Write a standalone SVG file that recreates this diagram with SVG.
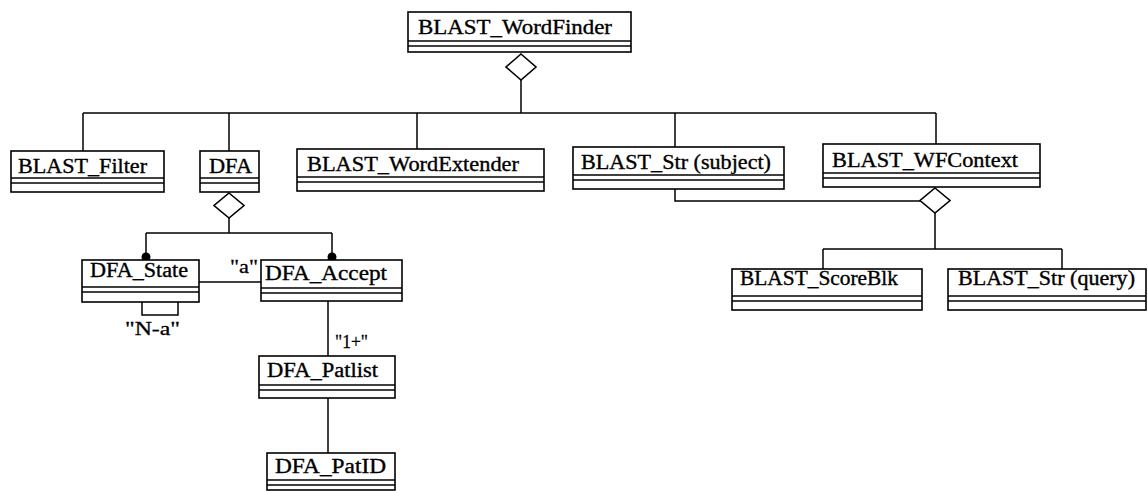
<svg xmlns="http://www.w3.org/2000/svg" width="1148" height="491" viewBox="0 0 1148 491">
<style>
  .box{fill:#fff;stroke:#000;stroke-width:1.6}
  .sep{stroke:#000;stroke-width:1.4}
  .t{font-family:"Liberation Serif","Times New Roman",serif;font-size:20px;fill:#000;stroke:#000;stroke-width:0.35}
  .lbl{font-family:"Liberation Serif","Times New Roman",serif;font-size:19px;fill:#000;stroke:#000;stroke-width:0.3}
  .c{fill:none;stroke:#000;stroke-width:1.5}
  .dia{fill:#fff;stroke:#000;stroke-width:1.6}
</style>
<rect width="1148" height="491" fill="#fff"/>
<g id="connectors">
  <polyline class="c" points="521,80 521,113"/>
  <polyline class="c" points="83,113 936,113"/>
  <polyline class="c" points="83,113 83,151"/>
  <polyline class="c" points="229,113 229,151"/>
  <polyline class="c" points="417,113 417,149"/>
  <polyline class="c" points="675,113 675,147"/>
  <polyline class="c" points="936,113 936,144"/>
  <polygon class="dia" points="521,54 536,67 521,80 506,67"/>
  <polyline class="c" points="229,218 229,233"/>
  <polyline class="c" points="146,233 332,233"/>
  <polyline class="c" points="146,233 146,258"/>
  <polyline class="c" points="332,233 332,258"/>
  <polygon class="dia" points="229,193 244,205.5 229,218 214,205.5"/>
  <circle cx="146" cy="257" r="4.5" fill="#000"/>
  <circle cx="332" cy="257" r="4.5" fill="#000"/>
  <polyline class="c" points="199,282 261,282"/>
  <text class="lbl" x="230" y="273" textLength="28" lengthAdjust="spacingAndGlyphs">"a"</text>
  <polyline class="c" points="142,302 142,315 178,315 178,302"/>
  <text class="lbl" x="125" y="335" textLength="55" lengthAdjust="spacingAndGlyphs">"N-a"</text>
  <polyline class="c" points="328,301 328,356"/>
  <text class="lbl" x="335" y="348" textLength="33" lengthAdjust="spacingAndGlyphs">"1+"</text>
  <polyline class="c" points="328,398 328,453"/>
  <polyline class="c" points="675,189 675,201 920,201"/>
  <polygon class="dia" points="935,188 950,200.5 935,213 920,200.5"/>
  <polyline class="c" points="935,213 935,249"/>
  <polyline class="c" points="823,249 1062,249"/>
  <polyline class="c" points="823,249 823,269"/>
  <polyline class="c" points="1062,249 1062,269"/>
</g>
<g id="BLAST_WordFinder">
  <rect class="box" x="408" y="12" width="223" height="40"/>
  <line class="sep" x1="408" y1="41" x2="631" y2="41"/>
  <line class="sep" x1="408" y1="46" x2="631" y2="46"/>
  <text class="t" x="418" y="34" textLength="194" lengthAdjust="spacingAndGlyphs">BLAST_WordFinder</text>
</g>
<g id="BLAST_Filter">
  <rect class="box" x="11" y="151" width="153" height="41"/>
  <line class="sep" x1="11" y1="178" x2="164" y2="178"/>
  <line class="sep" x1="11" y1="183" x2="164" y2="183"/>
  <text class="t" x="18" y="173" textLength="129" lengthAdjust="spacingAndGlyphs">BLAST_Filter</text>
</g>
<g id="DFA">
  <rect class="box" x="200" y="151" width="59" height="41"/>
  <line class="sep" x1="200" y1="178" x2="259" y2="178"/>
  <line class="sep" x1="200" y1="183" x2="259" y2="183"/>
  <text class="t" x="209" y="173" textLength="43" lengthAdjust="spacingAndGlyphs">DFA</text>
</g>
<g id="BLAST_WordExtender">
  <rect class="box" x="297" y="149" width="247" height="42"/>
  <line class="sep" x1="297" y1="177" x2="544" y2="177"/>
  <line class="sep" x1="297" y1="182" x2="544" y2="182"/>
  <text class="t" x="307" y="171" textLength="212" lengthAdjust="spacingAndGlyphs">BLAST_WordExtender</text>
</g>
<g id="BLAST_Str_subject">
  <rect class="box" x="573" y="147" width="211" height="42"/>
  <line class="sep" x1="573" y1="175" x2="784" y2="175"/>
  <line class="sep" x1="573" y1="180" x2="784" y2="180"/>
  <text class="t" x="581" y="169" textLength="190" lengthAdjust="spacingAndGlyphs">BLAST_Str (subject)</text>
</g>
<g id="BLAST_WFContext">
  <rect class="box" x="823" y="144" width="217" height="43"/>
  <line class="sep" x1="823" y1="173" x2="1040" y2="173"/>
  <line class="sep" x1="823" y1="178" x2="1040" y2="178"/>
  <text class="t" x="832" y="167" textLength="186" lengthAdjust="spacingAndGlyphs">BLAST_WFContext</text>
</g>
<g id="BLAST_ScoreBlk">
  <rect class="box" x="732" y="269" width="190" height="41"/>
  <line class="sep" x1="732" y1="296" x2="922" y2="296"/>
  <line class="sep" x1="732" y1="301" x2="922" y2="301"/>
  <text class="t" x="740" y="285" textLength="158" lengthAdjust="spacingAndGlyphs">BLAST_ScoreBlk</text>
</g>
<g id="BLAST_Str_query">
  <rect class="box" x="948" y="269" width="198" height="41"/>
  <line class="sep" x1="948" y1="296" x2="1146" y2="296"/>
  <line class="sep" x1="948" y1="301" x2="1146" y2="301"/>
  <text class="t" x="958" y="285" textLength="177" lengthAdjust="spacingAndGlyphs">BLAST_Str (query)</text>
</g>
<g id="DFA_State">
  <rect class="box" x="82" y="260" width="117" height="42"/>
  <line class="sep" x1="82" y1="287" x2="199" y2="287"/>
  <line class="sep" x1="82" y1="292" x2="199" y2="292"/>
  <text class="t" x="90" y="277" textLength="98" lengthAdjust="spacingAndGlyphs">DFA_State</text>
</g>
<g id="DFA_Accept">
  <rect class="box" x="261" y="260" width="141" height="41"/>
  <line class="sep" x1="261" y1="288" x2="402" y2="288"/>
  <line class="sep" x1="261" y1="293" x2="402" y2="293"/>
  <text class="t" x="265" y="280" textLength="122" lengthAdjust="spacingAndGlyphs">DFA_Accept</text>
</g>
<g id="DFA_Patlist">
  <rect class="box" x="259" y="356" width="136" height="42"/>
  <line class="sep" x1="259" y1="385" x2="395" y2="385"/>
  <line class="sep" x1="259" y1="390" x2="395" y2="390"/>
  <text class="t" x="267" y="377" textLength="111" lengthAdjust="spacingAndGlyphs">DFA_Patlist</text>
</g>
<g id="DFA_PatID">
  <rect class="box" x="267" y="453" width="128" height="37"/>
  <line class="sep" x1="267" y1="480" x2="395" y2="480"/>
  <line class="sep" x1="267" y1="485" x2="395" y2="485"/>
  <text class="t" x="275" y="473" textLength="111" lengthAdjust="spacingAndGlyphs">DFA_PatID</text>
</g>
</svg>
